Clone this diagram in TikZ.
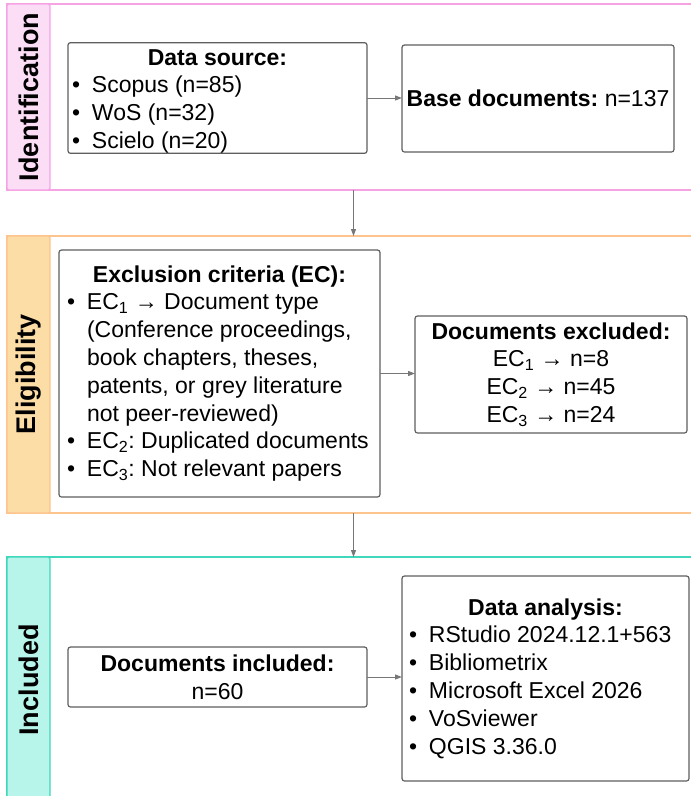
\documentclass[tikz,border=0pt]{standalone}
\usepackage{fontspec}
\setmainfont{Liberation Sans}
\usetikzlibrary{arrows.meta}

\definecolor{pinkline}{HTML}{F6A3E4}
\definecolor{pinkfill}{HTML}{FCDDF6}
\definecolor{orangeline}{HTML}{FDC48E}
\definecolor{orangefill}{HTML}{FDDDA6}
\definecolor{tealline}{HTML}{3FD8BC}
\definecolor{tealfill}{HTML}{B7F4EA}
\definecolor{boxgray}{HTML}{5F5F5F}
\definecolor{arrowgray}{HTML}{777777}

% bullet with a fixed indent, and the same indent for wrapped lines
\newcommand\lstbullet{\makebox[20pt][l]{•}}
\newcommand\lstindent{\hspace*{20pt}}
\newcommand\boxhead[1]{\makebox[\linewidth][c]{\textbf{#1}}}

\begin{document}
\hyphenpenalty=10000
\exhyphenpenalty=10000
\frenchspacing
\begin{tikzpicture}[x=1pt,y=-1pt,
  pool/.style={draw=#1, line width=1.3pt, inner sep=0pt, outer sep=0pt,
    minimum width=693pt},
  lanehead/.style n args={2}{draw=#1, fill=#2, line width=1.3pt, rounded corners=2pt,
    rotate=90, inner sep=0pt, outer sep=0pt, minimum height=43pt,
    font=\fontsize{27}{30}\selectfont\bfseries},
  stepbox/.style={draw=boxgray, fill=white, line width=1.2pt, rounded corners=2.5pt,
    inner xsep=4pt, inner ysep=0pt, outer sep=0pt,
    font=\fontsize{23}{27.8}\selectfont},
  flow/.style={draw=arrowgray, line width=1pt, -{Triangle[length=7pt,width=5pt]}}
]
\useasboundingbox (0,0) rectangle (691,796);
\clip (0,0) rectangle (691,796);

% swimlanes
\node[pool=pinkline, minimum height=186pt] (pool1) at (353.5,97) {};
\node[pool=orangeline, minimum height=277pt] (pool2) at (353.5,374.5) {};
\node[pool=tealline, minimum height=246pt] (pool3) at (353.5,680) {};

\node[lanehead={pinkline}{pinkfill}, minimum width=186pt] (head1) at (28.5,97) {Identification};
\node[lanehead={orangeline}{orangefill}, minimum width=277pt] (head2) at (28.5,374.5) {Eligibility};
\node[lanehead={tealline}{tealfill}, minimum width=246pt] (head3) at (28.5,680) {Included};

% identification
\node[stepbox, text width=291pt, minimum height=110pt, align=flush left] (src) at (217.5,98) {%
  \rule{0pt}{22.5pt}\boxhead{Data source:}\\
  \lstbullet Scopus (n=85)\\
  \lstbullet WoS (n=32)\\
  \lstbullet Scielo (n=20)};
\node[stepbox, minimum width=272pt, minimum height=107pt, align=center] (base) at (538,98.5)
  {\textbf{Base documents:} n=137};

% eligibility
\node[stepbox, inner xsep=8pt, text width=305pt, minimum height=247pt, align=flush left] (crit) at (219.5,373.5) {%
  \boxhead{Exclusion criteria (EC):}\\
  \lstbullet EC\textsubscript{1} → Document type\\
  \lstindent(Conference proceedings,\\
  \lstindent book chapters, theses,\\
  \lstindent patents, or grey literature\\
  \lstindent not peer-reviewed)\\
  \lstbullet\mbox{EC\textsubscript{2}: Duplicated documents}\\
  \lstbullet EC\textsubscript{3}: Not relevant papers};
\node[stepbox, minimum width=272pt, minimum height=117pt, align=center] (excl) at (551,374.5) {%
  \textbf{Documents excluded:}\\
  EC\textsubscript{1} → n=8\\
  EC\textsubscript{2} → n=45\\
  EC\textsubscript{3} → n=24};

% included
\node[stepbox, minimum width=299pt, minimum height=60pt, align=center] (incl) at (217.5,677) {%
  \textbf{Documents included:}\\
  n=60};
\node[stepbox, inner xsep=7pt, text width=273pt, minimum height=205pt, align=flush left] (anal) at (545.5,678.5) {%
  \boxhead{Data analysis:}\\
  \lstbullet RStudio 2024.12.1+563\\
  \lstbullet Bibliometrix\\
  \lstbullet Microsoft Excel 2026\\
  \lstbullet VoSviewer\\
  \lstbullet QGIS 3.36.0};

% connectors
\draw[flow] (src.east) -- (src.east -| base.west);
\draw[flow] (crit.east) -- (crit.east -| excl.west);
\draw[flow] (incl.east) -- (incl.east -| anal.west);
\draw[flow] (pool1.south) -- (pool2.north);
\draw[flow] (pool2.south) -- (pool3.north);
\end{tikzpicture}
\end{document}
